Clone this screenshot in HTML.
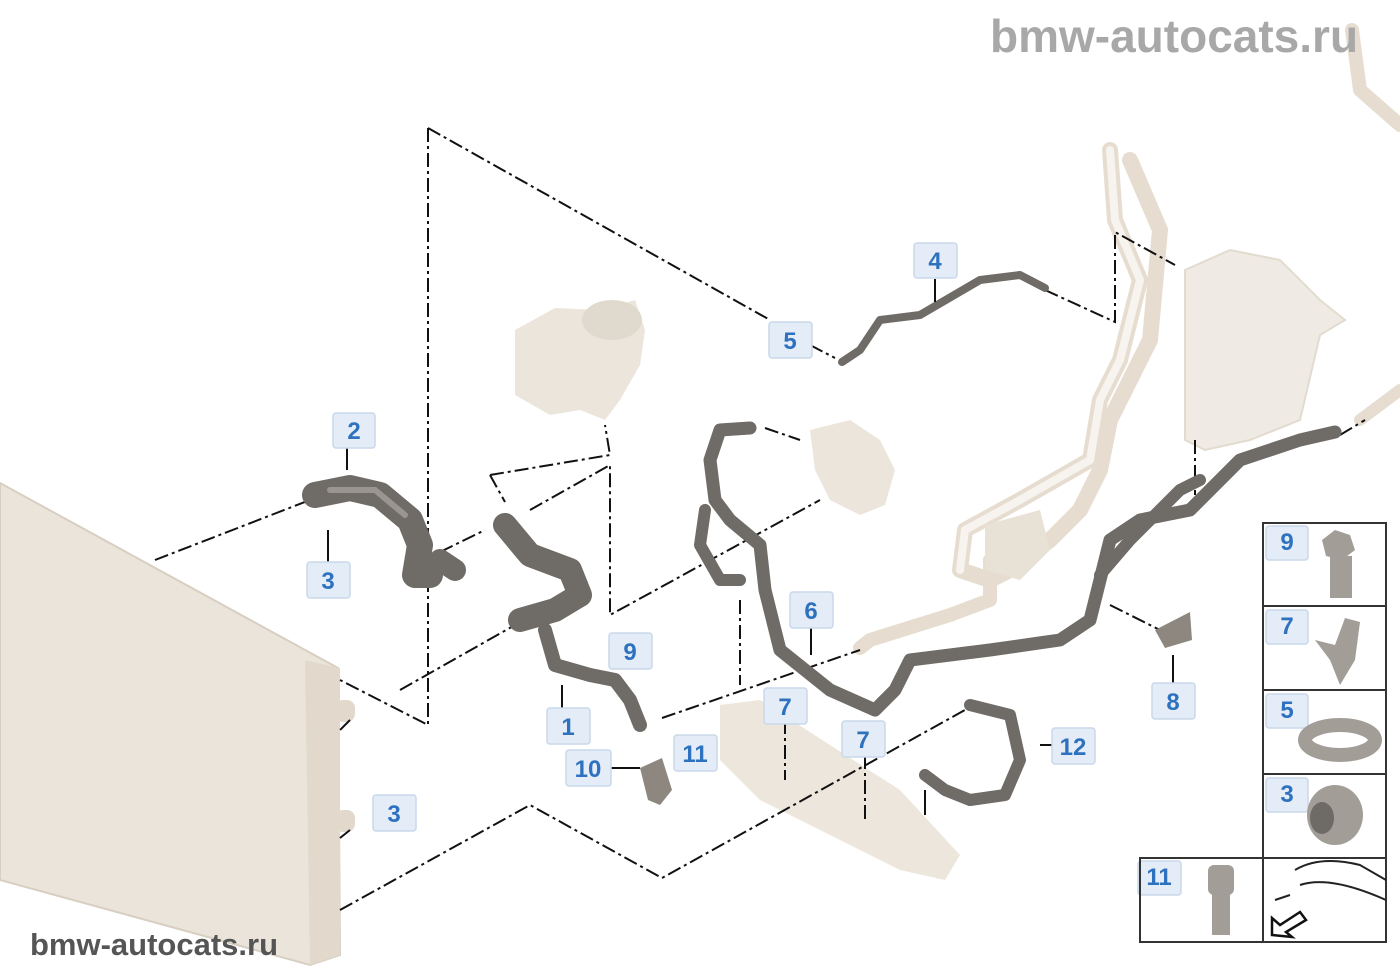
<!DOCTYPE html>
<html><head><meta charset="utf-8"><style>
html,body{margin:0;padding:0;background:#fff;width:1400px;height:980px;overflow:hidden}
svg{display:block}
.lb rect{fill:#e4edf7;stroke:#c8d8ea;stroke-width:1.5}
.lb text{fill:#2e72bf;font:bold 24px "Liberation Sans",sans-serif;text-anchor:middle}
.dd{fill:none;stroke:#111;stroke-width:2;stroke-dasharray:14 4 3 4}
.ln{stroke:#111;stroke-width:2}
.hose{fill:none;stroke:#6f6b67;stroke-linecap:round;stroke-linejoin:round}
.hi{fill:none;stroke:#9a9590;stroke-linecap:round;stroke-linejoin:round}
.lt{fill:none;stroke:#e6ddd0;stroke-linecap:round;stroke-linejoin:round}
.lt2{fill:none;stroke:#f7f3ee;stroke-linecap:round;stroke-linejoin:round}
.wm{fill:#a8a8a8;font:bold 46px "Liberation Sans",sans-serif}
</style></head><body>
<svg width="1400" height="980" viewBox="0 0 1400 980" xmlns="http://www.w3.org/2000/svg">
<polygon points="0,483 338,668 340,955 310,965 0,880" fill="#ebe4da" stroke="#d8cfc2" stroke-width="2"/>
<polygon points="305,660 340,668 340,955 310,965" fill="#e2d9cc"/>
<rect x="335" y="700" width="20" height="22" rx="8" fill="#e2d9cc"/>
<rect x="335" y="810" width="20" height="22" rx="8" fill="#e2d9cc"/>
<path class="lt" stroke-width="16" d="M1110,150 L1115,220 L1140,280 L1120,360 L1100,400 L1090,460 L1020,500 L965,530 L960,570 L990,580 L1010,570 L1050,540 L1080,510 L1100,470 L1110,420 L1150,340 L1160,230 L1130,160"/>
<path class="lt2" stroke-width="8" d="M1110,150 L1115,220 L1140,280 L1120,360 L1100,400 L1090,460 L1020,500 L965,530 L960,570"/>
<path class="lt" stroke-width="14" d="M990,560 L990,600 L950,615 L870,640 L860,648"/>
<path class="lt" stroke-width="14" d="M1352,30 L1360,90 L1400,125"/>
<path class="lt" stroke-width="12" d="M1360,420 L1400,390"/>
<path d="M515,330 L555,308 L600,310 L635,300 L645,330 L640,365 L620,400 L605,420 L580,410 L550,415 L515,395 Z" fill="#ebe5dc"/>
<ellipse cx="612" cy="320" rx="30" ry="20" fill="#e0d9ce"/>
<path d="M810,430 L850,420 L880,440 L895,470 L885,505 L860,515 L830,500 L815,470 Z" fill="#ebe5dc"/>
<path d="M1185,270 L1230,250 L1280,260 L1320,300 L1345,320 L1320,335 L1300,420 L1250,440 L1205,450 L1185,440 Z" fill="#efeae3" stroke="#e2dbd0" stroke-width="2"/>
<path d="M985,525 L1040,510 L1050,550 L1020,580 L985,570 Z" fill="#e8e1d6"/>
<path d="M720,705 L760,700 L900,790 L960,855 L945,880 L900,870 L760,800 L720,760 Z" fill="#ece6dd"/>
<path class="dd" d="M428,128 L428,725 L340,680"/>
<path class="dd" d="M428,128 L770,320"/>
<path class="dd" d="M810,345 L835,358"/>
<path class="dd" d="M155,560 L310,500"/>
<path class="dd" d="M490,475 L610,455 L605,425 M490,475 L505,502 M530,510 L610,465 L610,615 L820,500"/>
<path class="dd" d="M400,690 L515,625"/>
<path class="dd" d="M440,552 L485,530"/>
<path class="dd" d="M662,718 L860,650"/>
<path class="dd" d="M340,910 L530,805 L662,878 L965,710"/>
<path class="dd" d="M1045,290 L1115,322 L1115,232 L1175,265"/>
<path class="dd" d="M1195,440 L1195,495"/>
<path class="dd" d="M1110,605 L1160,630"/>
<path class="dd" d="M765,428 L800,440"/>
<path class="dd" d="M740,600 L740,685 M785,720 L785,780 M865,755 L865,820"/>
<path class="dd" d="M1340,435 L1365,420"/>
<path class="dd" d="M350,720 L340,730 M350,830 L340,838"/>
<path class="hose" stroke-width="26" d="M315,495 L350,488 L380,495 L410,520 L420,545 L415,575 L430,575"/>
<path class="hi" stroke-width="6" d="M330,490 L375,490 L405,515"/>
<path class="hose" stroke-width="24" d="M505,525 L530,555 L570,570 L580,595 L555,610 L520,620"/>
<path class="hose" stroke-width="14" d="M545,630 L555,665 L590,675 L615,680 L630,700 L640,725"/>
<path class="hose" stroke-width="22" d="M455,570 L440,560"/>
<path class="hose" stroke-width="8" d="M842,362 L860,350 L880,320 L920,315 L980,280 L1020,275 L1045,288"/>
<path class="hose" stroke-width="13" d="M750,428 L720,430 L710,460 L715,500 L730,520 L760,545 L765,590 L780,650 L830,690 L875,710 L895,690 L910,660 L990,650 L1060,640 L1090,620 L1100,580 L1110,540 L1140,520 L1190,510 L1240,460 L1300,440 L1335,432"/>
<path class="hose" stroke-width="12" d="M705,510 L700,545 L720,580 L740,580"/>
<path class="hose" stroke-width="12" d="M1100,575 L1130,540 L1180,490 L1200,480"/>
<path class="hose" stroke-width="12" d="M970,705 L1010,715 L1020,760 L1005,795 L970,800 L945,790 L925,775"/>
<path d="M1155,630 L1190,612 L1192,640 L1165,648 Z" fill="#8d8780"/>
<path d="M640,768 L662,758 L672,790 L660,805 L648,800 Z" fill="#8d8780"/>
<line class="ln" x1="347" y1="448" x2="347" y2="470"/>
<line class="ln" x1="328" y1="530" x2="328" y2="562"/>
<line class="ln" x1="935" y1="279" x2="935" y2="302"/>
<line class="ln" x1="562" y1="685" x2="562" y2="708"/>
<line class="ln" x1="608" y1="768" x2="640" y2="768"/>
<line class="ln" x1="811" y1="628" x2="811" y2="655"/>
<line class="ln" x1="1040" y1="745" x2="1056" y2="745"/>
<line class="ln" x1="1173" y1="655" x2="1173" y2="683"/>
<line class="ln" x1="925" y1="790" x2="925" y2="815"/>
<g class="lb">
<rect x="333" y="413" width="42" height="35" rx="3"/><text x="354" y="439">2</text>
<rect x="307" y="562" width="43" height="36" rx="3"/><text x="328" y="589">3</text>
<rect x="769" y="322" width="43" height="36" rx="3"/><text x="790" y="349">5</text>
<rect x="914" y="243" width="43" height="35" rx="3"/><text x="935" y="269">4</text>
<rect x="609" y="633" width="43" height="36" rx="3"/><text x="630" y="660">9</text>
<rect x="547" y="708" width="43" height="36" rx="3"/><text x="568" y="735">1</text>
<rect x="566" y="750" width="45" height="36" rx="3"/><text x="588" y="777">10</text>
<rect x="674" y="735" width="43" height="36" rx="3"/><text x="695" y="762">11</text>
<rect x="764" y="688" width="43" height="36" rx="3"/><text x="785" y="715">7</text>
<rect x="842" y="721" width="43" height="36" rx="3"/><text x="863" y="748">7</text>
<rect x="790" y="592" width="43" height="36" rx="3"/><text x="811" y="619">6</text>
<rect x="1052" y="728" width="43" height="36" rx="3"/><text x="1073" y="755">12</text>
<rect x="1152" y="683" width="43" height="36" rx="3"/><text x="1173" y="710">8</text>
<rect x="373" y="795" width="43" height="36" rx="3"/><text x="394" y="822">3</text>
<rect x="1266" y="526" width="42" height="34" rx="3"/><text x="1287" y="550">9</text>
<rect x="1266" y="610" width="42" height="34" rx="3"/><text x="1287" y="634">7</text>
<rect x="1266" y="694" width="42" height="34" rx="3"/><text x="1287" y="718">5</text>
<rect x="1266" y="778" width="42" height="34" rx="3"/><text x="1287" y="802">3</text>
<rect x="1138" y="861" width="43" height="34" rx="3"/><text x="1159" y="885">11</text>
</g>
<g fill="none" stroke="#333" stroke-width="2">
<rect x="1263" y="523" width="123" height="335"/>
<line x1="1263" y1="606" x2="1386" y2="606"/>
<line x1="1263" y1="690" x2="1386" y2="690"/>
<line x1="1263" y1="774" x2="1386" y2="774"/>
<rect x="1140" y="858" width="246" height="84"/>
<line x1="1263" y1="858" x2="1263" y2="942"/>
</g>
<polygon points="1322,540 1335,530 1350,535 1355,550 1342,560 1326,556" fill="#a29d97"/>
<rect x="1330" y="556" width="22" height="42" fill="#a29d97"/>
<path d="M1315,640 L1335,645 L1345,618 L1360,622 L1355,660 L1340,685 L1330,660 Z" fill="#a29d97"/>
<ellipse cx="1340" cy="740" rx="35" ry="15" fill="none" stroke="#a29d97" stroke-width="14"/>
<ellipse cx="1335" cy="815" rx="28" ry="30" fill="#a29d97"/>
<ellipse cx="1322" cy="818" rx="12" ry="16" fill="#6e6a66"/>
<rect x="1208" y="865" width="26" height="30" rx="6" fill="#a29d97"/>
<rect x="1212" y="893" width="18" height="42" fill="#a29d97"/>
<path d="M1295,870 Q1320,855 1360,865 L1386,880 M1300,885 Q1330,875 1386,900 M1275,900 L1290,895" fill="none" stroke="#222" stroke-width="2"/>
<path d="M1272,935 L1272,918 L1280,925 L1300,912 L1306,920 L1286,932 L1292,937 Z" fill="#fff" stroke="#111" stroke-width="2.5"/>
<text class="wm" x="990" y="52">bmw-autocats.ru</text>
<text x="30" y="955" style="fill:#555;font:bold 31px 'Liberation Sans',sans-serif">bmw-autocats.ru</text>
</svg>
</body></html>
